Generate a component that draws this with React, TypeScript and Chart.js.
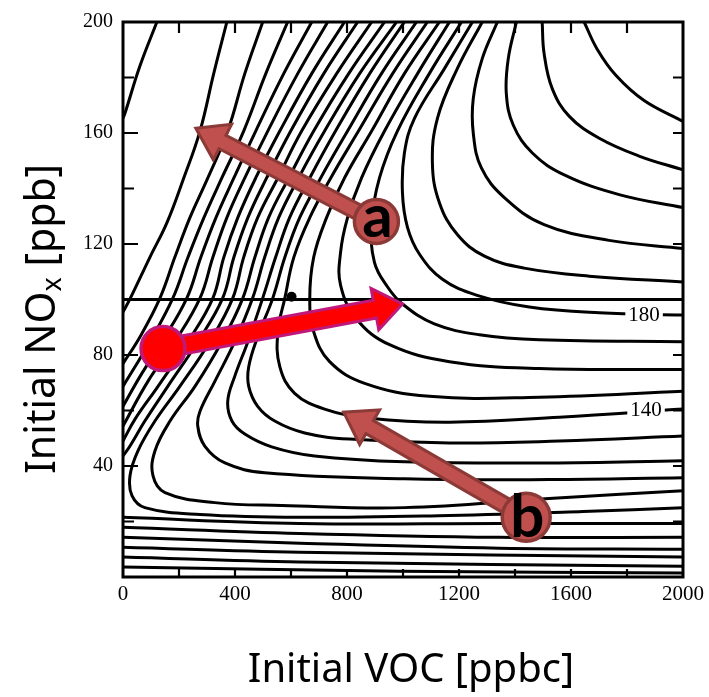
import React, { useEffect, useRef } from 'react';
import { Chart, registerables } from 'chart.js';
Chart.register(...registerables);

// ---- axes ----
const xTickValues = [0, 400, 800, 1200, 1600, 2000];
const yTickValues = [0, 40, 80, 120, 160, 200];
const refNOx = 100; // horizontal reference line (ppb)
const refPoint = [602, 101]; // small black dot on the reference line

// ---- ozone isopleths, [VOC ppbC, NOx ppb] ----
const iso230 = [[1647,200],[1693,190.3],[1761,180.7],[1861,171.7],[2000,164.2]];
const iso220 = [[1497,200],[1504,188.6],[1533,176],[1594,166],[1701,158.1],[1843,151.7],[2000,146.7]];
const iso210 = [[1405,200],[1376,186.8],[1369,174.2],[1394,162.8],[1462,152.8],[1576,144.9],[1772,137.8],[2000,133.1]];
const iso200 = [[1337,200],[1283,186.8],[1251,172.5],[1251,159.9],[1280,147.4],[1362,136.7],[1504,127],[1736,121.3],[2000,118.4]];
const iso190 = [[1283,200],[1194,183.2],[1123,165.3],[1105,149.2],[1130,134.9],[1194,123.4],[1291,115.6],[1433,111.3],[1665,108.4],[2000,106.3]];
const iso180 = [[1248,200],[1148,183.2],[1041,165.3],[1005,152.8],[998,138.5],[1016,126],[1059,116.3],[1141,107.3],[1262,101.6],[1451,97.3],[1701,95.2],[2000,94.4]];
const iso170 = [[1209,200],[1094,181.4],[980,160.7],[916,143.8],[888,127.7],[898,113.4],[945,104.5],[998,98.4],[1112,91.2],[1273,87.3],[1487,85.5],[2000,84.8]];
const iso160 = [[1166,200],[1052,181.4],[934,160.7],[852,143.8],[802,129.5],[777,117],[777,105.2],[834,93],[952,83.7],[1166,77.6],[1487,75.1],[2000,74.8]];
const iso150 = [[1130,200],[1005,181.4],[888,160.7],[791,143.8],[727,129.5],[681,115.2],[667,100.2],[681,88.4],[738,77.6],[863,69.8],[1094,65.1],[1487,64.8],[2000,66.9]];
const iso140 = [[1087,200],[963,181.4],[841,160.7],[742,143.8],[667,129.5],[610,115.2],[578,100.5],[553,88.4],[560,75.8],[613,66.2],[720,60.5],[881,57.2],[1166,55.8],[1558,57.6],[2000,60.5]];
const iso130 = [[1048,200],[923,181.4],[802,160.7],[706,143.8],[631,129.5],[578,115.2],[535,100.5],[481,86.6],[449,75.8],[449,68.7],[481,61.5],[542,56.2],[649,51.9],[809,49.7],[1166,48.3],[1558,49],[2000,50.8]];
const iso120 = [[1005,200],[881,181.4],[759,160.7],[667,143.8],[595,129.5],[545,115.2],[499,100.5],[446,84.8],[399,72.3],[374,63.3],[389,56.2],[435,51.5],[531,46.9],[684,43.6],[1005,41.5],[1522,41.1],[2000,41.9]];
const iso110 = [[977,200],[845,181.4],[720,160.7],[627,143.8],[556,129.5],[506,115.2],[463,100.5],[399,84.8],[328,70.5],[275,59.7],[267,54.4],[292,47.2],[364,41.1],[506,37.6],[1005,35.4],[1522,35.1],[2000,35.8]];
const iso100 = [[934,200],[806,181.4],[681,160.7],[592,143.8],[520,129.5],[471,115.2],[428,100.5],[353,84.8],[257,68.7],[168,56.2],[114,45.4],[107,36.5],[150,30.4],[328,26.8],[567,25.8],[1005,25],[1522,28.3],[2000,31.1]];
const iso90 = [[888,200],[763,181.4],[638,160.7],[553,143.8],[481,129.5],[431,115.2],[392,100.5],[310,84.8],[203,68.7],[114,56.2],[53,45.4],[25,36.5],[32,29.3],[78,25],[275,22.5],[631,21.5],[1166,22.2],[1643,23.6],[2000,25]];
const iso80a = [[838,200],[717,181.4],[599,160.7],[513,143.8],[446,129.5],[396,115.2],[356,100.5],[267,84.8],[160,68.7],[78,56.2],[25,47.2],[0,43.6]];
const iso70a = [[791,200],[674,181.4],[560,160.7],[474,143.8],[410,129.5],[360,115.2],[321,100.5],[232,84.8],[125,68.7],[43,56.9],[0,49]];
const iso60a = [[731,200],[624,181.4],[517,160.7],[435,143.8],[371,129.5],[321,115.2],[275,100.5],[185,84.8],[89,70.5],[0,54.4]];
const iso50a = [[674,200],[574,181.4],[474,160.7],[396,143.8],[332,129.5],[278,115.2],[228,100.5],[139,84.8],[61,72.3],[0,61.5]];
const iso40a = [[588,200],[510,181.4],[431,160.7],[353,143.8],[289,129.5],[232,115.2],[178,100.5],[96,84.8],[0,68.7]];
const iso30a = [[499,200],[435,181.4],[374,160.7],[303,143.8],[239,129.5],[185,115.2],[132,100.5],[61,86.6],[0,76.9]];
const iso20a = [[371,200],[324,181.4],[275,160.7],[217,143.8],[157,127.7],[96,115.2],[25,100.2],[0,95.5]];
const iso10a = [[121,200],[61,184.3],[7,167.1],[0,165.3]];
const iso80b = [[0,21.5],[631,19.3],[1344,19.3],[2000,19.3]];
const iso70b = [[0,17.9],[631,15.7],[1344,14.3],[2000,14.3]];
const iso60b = [[0,14.3],[631,12.2],[1344,10.4],[2000,10]];
const iso50b = [[0,10.7],[631,8.9],[2000,7.2]];
const iso40b = [[0,7.2],[631,5.4],[2000,3.9]];
const iso30b = [[0,3.6],[988,2.1],[2000,1.4]];

const isopleths = [iso230, iso220, iso210, iso200, iso190, iso180, iso170, iso160, iso150, iso140,
  iso130, iso120, iso110, iso100, iso90, iso80a, iso70a, iso60a, iso50a, iso40a, iso30a, iso20a, iso10a,
  iso80b, iso70b, iso60b, iso50b, iso40b, iso30b];

// inline contour labels [text, VOC, NOx]
const contourLabels = [['180', 1861, 94.6], ['140', 1868, 60.3]];

// annotation arrows: circle centre and tip in data units
const arrowA = { label: 'a', from: [905, 128.1], to: [260, 161.7] };
const arrowB = { label: 'b', from: [1440, 21.5], to: [788, 59.4] };
const arrowRed = { label: '', from: [143, 82.3], to: [998, 98.4] };

const SANS = '"Noto Sans", "Open Sans", sans-serif';
const SERIF = '"Liberation Serif", "DejaVu Serif", serif';

function drawArrow(ctx: CanvasRenderingContext2D, x0: number, y0: number, x1: number, y1: number,
  shaftW: number, headL: number, headW: number, fill: string, stroke: string, lw: number) {
  const dx = x1 - x0, dy = y1 - y0, len = Math.hypot(dx, dy);
  const ux = dx / len, uy = dy / len, nx = -uy, ny = ux;
  const bx = x1 - ux * headL, by = y1 - uy * headL;
  ctx.beginPath();
  ctx.moveTo(x0 + nx * shaftW / 2, y0 + ny * shaftW / 2);
  ctx.lineTo(bx + nx * shaftW / 2, by + ny * shaftW / 2);
  ctx.lineTo(bx + nx * headW / 2, by + ny * headW / 2);
  ctx.lineTo(x1, y1);
  ctx.lineTo(bx - nx * headW / 2, by - ny * headW / 2);
  ctx.lineTo(bx - nx * shaftW / 2, by - ny * shaftW / 2);
  ctx.lineTo(x0 - nx * shaftW / 2, y0 - ny * shaftW / 2);
  ctx.closePath();
  ctx.fillStyle = fill;
  ctx.fill();
  ctx.lineWidth = lw;
  ctx.strokeStyle = stroke;
  ctx.lineJoin = 'miter';
  ctx.stroke();
}

const overlayPlugin = {
  id: 'overlay',
  afterDatasetsDraw(chart: any) {
    const { ctx, chartArea: a, scales } = chart;
    const xs = scales.x, ys = scales.y;
    ctx.save();
    // contour labels
    ctx.font = '21px ' + SERIF;
    ctx.textAlign = 'center';
    ctx.textBaseline = 'middle';
    for (const [t, vx, vy] of contourLabels as any) {
      const px = xs.getPixelForValue(vx), py = ys.getPixelForValue(vy);
      const w = ctx.measureText(t).width + 6;
      ctx.fillStyle = '#fff';
      ctx.fillRect(px - w / 2, py - 9, w, 18);
      ctx.fillStyle = '#000';
      ctx.fillText(t, px, py + 1);
    }
    // frame
    ctx.strokeStyle = '#000';
    ctx.lineWidth = 3;
    ctx.strokeRect(a.left, a.top, a.right - a.left, a.bottom - a.top);
    // inner ticks
    ctx.lineWidth = 2.2;
    ctx.beginPath();
    for (let v = 20; v < 200; v += 20) {
      const py = ys.getPixelForValue(v);
      const L = v % 40 === 0 ? 15 : 11;
      ctx.moveTo(a.left, py); ctx.lineTo(a.left + L, py);
      ctx.moveTo(a.right, py); ctx.lineTo(a.right - 10, py);
    }
    for (let v = 200; v < 2000; v += 200) {
      const px = xs.getPixelForValue(v);
      ctx.moveTo(px, a.top); ctx.lineTo(px, a.top + 11);
      ctx.moveTo(px, a.bottom); ctx.lineTo(px, a.bottom - 8);
    }
    ctx.stroke();

    // arrows
    const ann = (arw: any, fill: string, stroke: string, r: number, shaftW: number, headL: number, headW: number) => {
      const x0 = xs.getPixelForValue(arw.from[0]), y0 = ys.getPixelForValue(arw.from[1]);
      const x1 = xs.getPixelForValue(arw.to[0]), y1 = ys.getPixelForValue(arw.to[1]);
      drawArrow(ctx, x0, y0, x1, y1, shaftW, headL, headW, fill, stroke, 3);
      ctx.beginPath();
      ctx.arc(x0, y0, r, 0, Math.PI * 2);
      ctx.fillStyle = fill;
      ctx.fill();
      ctx.lineWidth = 3.5;
      ctx.strokeStyle = stroke;
      ctx.stroke();
      if (arw.label) {
        ctx.fillStyle = '#000';
        ctx.font = 'bold 60px Lato, ' + SANS;
        ctx.textAlign = 'center';
        ctx.textBaseline = 'alphabetic';
        const off = arw.label === 'a' ? 15 : 20;
        ctx.fillText(arw.label, x0 + 1, y0 + off);
      }
    };
    ann(arrowA, '#C0504D', '#8C3A37', 22, 15, 30, 40);
    ann(arrowB, '#C0504D', '#8C3A37', 24, 15, 30, 40);
    ann(arrowRed, '#FF0000', '#C0187A', 22, 18, 28, 42);
    ctx.restore();
  },
  afterDraw(chart: any) {
    const { ctx } = chart;
    ctx.save();
    ctx.fillStyle = '#000';
    ctx.textBaseline = 'alphabetic';
    ctx.font = '40px ' + SANS;
    ctx.textAlign = 'center';
    ctx.fillText('Initial VOC [ppbc]', 411, 682);
    // rotated y title with subscript
    ctx.translate(55, 319);
    ctx.rotate(-Math.PI / 2);
    ctx.textAlign = 'left';
    const big = '41px ' + SANS, small = '27px ' + SANS;
    ctx.font = big; const w1 = ctx.measureText('Initial NO').width;
    ctx.font = small; const w2 = ctx.measureText('x').width;
    ctx.font = big; const w3 = ctx.measureText(' [ppb]').width;
    let s = -(w1 + w2 + w3) / 2;
    ctx.font = big; ctx.fillText('Initial NO', s, 0); s += w1;
    ctx.font = small; ctx.fillText('x', s, 6); s += w2;
    ctx.font = big; ctx.fillText(' [ppb]', s, 0);
    ctx.restore();
  },
};

export default function App() {
  const ref = useRef<HTMLCanvasElement | null>(null);
  useEffect(() => {
    if (!ref.current) return;
    const datasets: any[] = isopleths.map((pts) => ({
      data: pts.map(([x, y]) => ({ x, y })),
      showLine: true,
      borderColor: '#000',
      borderWidth: 3,
      pointRadius: 0,
      tension: 0.4,
      fill: false,
    }));
    datasets.push({
      data: [{ x: 0, y: refNOx }, { x: 2000, y: refNOx }],
      showLine: true, borderColor: '#000', borderWidth: 3, pointRadius: 0, tension: 0,
    });
    datasets.push({
      data: [{ x: refPoint[0], y: refPoint[1] }],
      showLine: false, pointRadius: 5, pointBackgroundColor: '#000', pointBorderWidth: 0,
    });
    const chart = new Chart(ref.current, {
      type: 'scatter',
      data: { datasets },
      options: {
        animation: false,
        responsive: false,
        devicePixelRatio: 1,
        layout: { padding: { left: 0, top: 18, right: 25, bottom: 0 } },
        plugins: { legend: { display: false }, tooltip: { enabled: false } },
        events: [],
        scales: {
          x: {
            type: 'linear', min: 0, max: 2000,
            grid: { display: false, drawTicks: false },
            border: { display: false },
            afterBuildTicks: (s: any) => { s.ticks = xTickValues.map((v) => ({ value: v })); },
            afterFit: (s: any) => { s.height = 120; },
            ticks: {
              color: '#000', padding: 5, maxRotation: 0, autoSkip: false, font: { family: SERIF, size: 21 },
              callback: (v: any) => String(v),
            },
          },
          y: {
            type: 'linear', min: 0, max: 200,
            grid: { display: false, drawTicks: false },
            border: { display: false },
            afterBuildTicks: (s: any) => { s.ticks = yTickValues.map((v) => ({ value: v })); },
            afterFit: (s: any) => { s.width = 123; },
            ticks: {
              color: '#000', padding: 10, autoSkip: false, font: { family: SERIF, size: 20 },
              callback: (v: any) => (v === 0 ? '' : String(v)),
            },
          },
        },
      },
      plugins: [overlayPlugin],
    });
    return () => chart.destroy();
  }, []);
  return (
    <div style={{ position: 'absolute', left: 0, top: 0, width: 709, height: 697, background: '#fff' }}>
      <canvas ref={ref} width={709} height={697} style={{ width: 709, height: 697, display: 'block' }} />
    </div>
  );
}
